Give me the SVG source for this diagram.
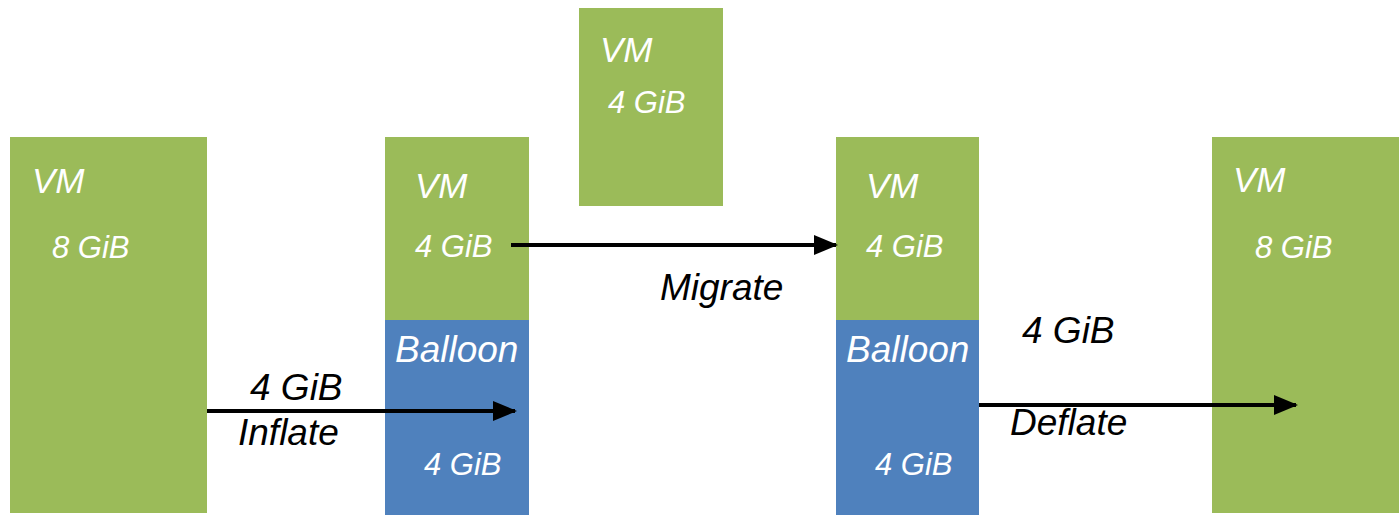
<svg xmlns="http://www.w3.org/2000/svg" width="1399" height="515" viewBox="0 0 1399 515">
<style>
.g{fill:#9BBB59}
.b{fill:#4F81BD}
text{font-family:"Liberation Sans",Arial,sans-serif;font-style:italic}
.w{fill:#fff}
.k{fill:#000;font-size:37px}
.lg{font-size:35px}
.bl{font-size:37px}
.sm{font-size:31px}
.c{stroke:#000;stroke-width:4;fill:none;marker-end:url(#ah)}
</style>
<defs>
<marker id="ah" markerWidth="6" markerHeight="5" refX="5.5" refY="2.5" orient="auto" markerUnits="strokeWidth">
<path d="M0,0 L6,2.5 L0,5 z" fill="#000"/>
</marker>
</defs>
<g id="vm1">
<rect class="g" x="10" y="137" width="197" height="376"/>
<text class="w lg" x="32" y="193">VM</text>
<text class="w sm" x="52" y="258">8 GiB</text>
</g>
<g id="vm2">
<rect class="g" x="385" y="137" width="144" height="183"/>
<text class="w lg" x="415" y="198">VM</text>
<text class="w sm" x="415" y="257">4 GiB</text>
</g>
<g id="balloon2">
<rect class="b" x="385" y="320" width="144" height="195"/>
<text class="w bl" x="395" y="362">Balloon</text>
<text class="w sm" x="424" y="475">4 GiB</text>
</g>
<g id="vm3">
<rect class="g" x="579" y="8" width="144" height="198"/>
<text class="w lg" x="600" y="62">VM</text>
<text class="w sm" x="608" y="113">4 GiB</text>
</g>
<g id="vm4">
<rect class="g" x="836" y="137" width="143" height="183"/>
<text class="w lg" x="866" y="198">VM</text>
<text class="w sm" x="866" y="257">4 GiB</text>
</g>
<g id="balloon4">
<rect class="b" x="836" y="320" width="143" height="195"/>
<text class="w bl" x="846" y="362">Balloon</text>
<text class="w sm" x="875" y="475">4 GiB</text>
</g>
<g id="vm5">
<rect class="g" x="1212" y="137" width="187" height="376"/>
<text class="w lg" x="1233" y="192">VM</text>
<text class="w sm" x="1255" y="258">8 GiB</text>
</g>
<g id="connectors">
<line class="c" x1="207" y1="411" x2="515" y2="411"/>
<line class="c" x1="511" y1="245" x2="836" y2="245"/>
<line class="c" x1="979" y1="405" x2="1296" y2="405"/>
<text class="k" x="250" y="400">4 GiB</text>
<text class="k" x="238" y="445">Inflate</text>
<text class="k" x="660" y="300">Migrate</text>
<text class="k" x="1022" y="343">4 GiB</text>
<text class="k" x="1010" y="435">Deflate</text>
</g>
</svg>
